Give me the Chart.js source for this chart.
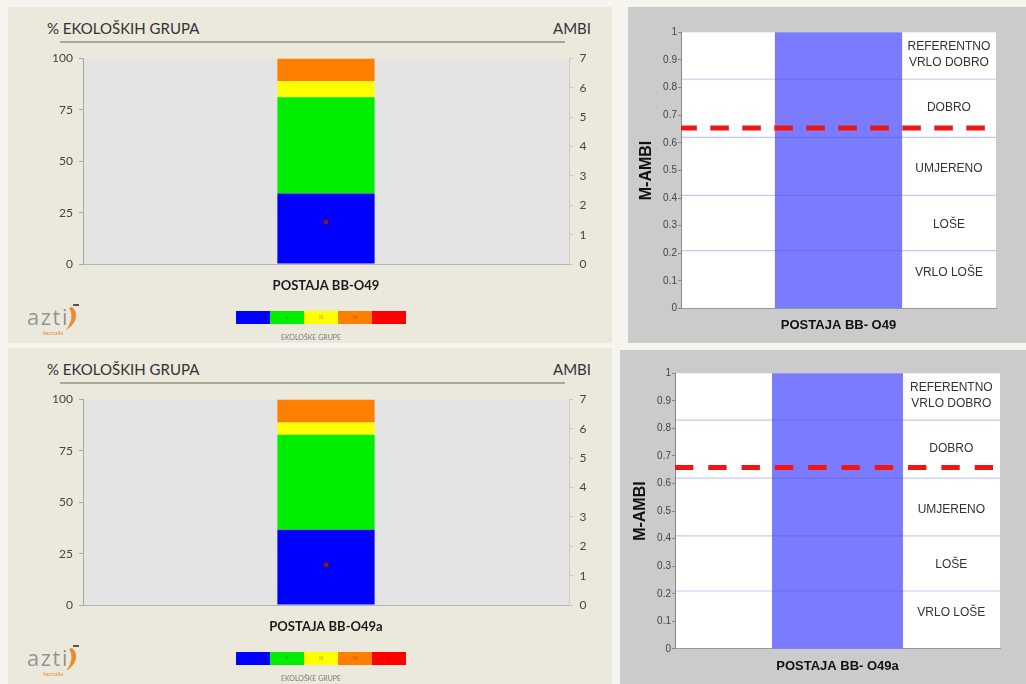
<!DOCTYPE html>
<html>
<head>
<meta charset="utf-8">
<script src="https://cdn.jsdelivr.net/npm/chart.js@4.4.0/dist/chart.umd.min.js"></script>
<style>
  body { margin:0; width:1026px; height:684px; position:relative; overflow:hidden; background:#f5f4ef; font-family:Lato, sans-serif; }
  .block { position:absolute; width:612px; height:343px; }
  .block.right { width:414px; }
  .bg { position:absolute; }
  .beige { background:#ebe8dc; }
  .grey { background:#cbcbcb; }
  canvas { position:absolute; left:0; top:0; }
  .head { position:absolute; top:19px; font-size:15px; line-height:18px; color:#333; }
  .rule { position:absolute; left:60px; top:41px; width:505px; height:2px; background:#a9a697; }
  .strip { position:absolute; left:236px; top:311px; width:170px; height:13px; display:flex; }
  .strip span { flex:1; font-size:5px; line-height:13px; text-align:center; color:rgba(0,0,0,.45); }
  .eg { position:absolute; left:251px; top:333px; width:120px; text-align:center; font-size:7px; line-height:9px; color:#7a7a7a; }
  .azti { position:absolute; left:27px; top:304px; font-family:"Open Sans", sans-serif; font-size:22px; line-height:24px; letter-spacing:1.5px; color:#939393; }
  .tec { position:absolute; left:43px; top:329px; font-size:6px; line-height:7px; color:#e8893a; }
  .swoosh { position:absolute; left:64px; top:303px; }
</style>
</head>
<body>

<div class="block" style="left:0;top:0">
  <div class="bg beige" style="left:8px;top:7px;width:604px;height:336px"></div>
  <div class="head" style="left:47px">% EKOLOŠKIH GRUPA</div>
  <div class="head" style="right:21px">AMBI</div>
  <div class="rule"></div>
  <canvas id="ambi0" width="612" height="343"></canvas>
  <div class="azti">azti</div>
  <div class="tec">tecnalia</div>
  <svg class="swoosh" width="18" height="28" viewBox="0 0 18 28"><path d="M8 4 C15 9 13 21 2 27 C8 19 9 11 5 5 Z" fill="#ef8a2c"/><rect x="9" y="1" width="6" height="2" fill="#555"/></svg>
  <div class="strip"><span style="background:#0000ff">I</span><span style="background:#00ee00">II</span><span style="background:#ffff00">III</span><span style="background:#ff8000">IV</span><span style="background:#ff0000">V</span></div>
  <div class="eg">EKOLOŠKE GRUPE</div>
</div>

<div class="block" style="left:0;top:341px">
  <div class="bg beige" style="left:8px;top:7px;width:604px;height:336px"></div>
  <div class="head" style="left:47px">% EKOLOŠKIH GRUPA</div>
  <div class="head" style="right:21px">AMBI</div>
  <div class="rule"></div>
  <canvas id="ambi1" width="612" height="343"></canvas>
  <div class="azti">azti</div>
  <div class="tec">tecnalia</div>
  <svg class="swoosh" width="18" height="28" viewBox="0 0 18 28"><path d="M8 4 C15 9 13 21 2 27 C8 19 9 11 5 5 Z" fill="#ef8a2c"/><rect x="9" y="1" width="6" height="2" fill="#555"/></svg>
  <div class="strip"><span style="background:#0000ff">I</span><span style="background:#00ee00">II</span><span style="background:#ffff00">III</span><span style="background:#ff8000">IV</span><span style="background:#ff0000">V</span></div>
  <div class="eg">EKOLOŠKE GRUPE</div>
</div>

<div class="block right" style="left:612px;top:0">
  <div class="bg grey" style="left:16px;top:7px;width:398px;height:336px"></div>
  <canvas id="mambi0" width="414" height="343"></canvas>
</div>

<div class="block right" style="left:612px;top:341px">
  <div class="bg grey" style="left:8px;top:9px;width:406px;height:334px"></div>
  <canvas id="mambi1" width="414" height="343"></canvas>
</div>

<script>
// postaje
const stations = ['POSTAJA BB-O49', 'POSTAJA BB-O49a'];
const mambiStations = ['POSTAJA BB- O49', 'POSTAJA BB- O49a'];

// % ekoloških grupa I-V po postaji
const grpI = [34.3, 36.6];
const grpII = [46.9, 46.2];
const grpIII = [7.7, 6.0];
const grpIV = [11.1, 11.2];
const grpV = [0, 0];
const ambi = [1.43, 1.37];

// M-AMBI
const mambi = [0.654, 0.658];
const mambiBar = [1, 1];
const statusLimits = [0.83, 0.62, 0.41, 0.21];
const statusNames = [['REFERENTNO', 'VRLO DOBRO'], ['DOBRO'], ['UMJERENO'], ['LOŠE'], ['VRLO LOŠE']];
const statusLabelAt = [0.918, 0.726, 0.506, 0.304, 0.13];

// oznake osi
const pctTicks = [0, 25, 50, 75, 100];
const ambiTicks = [0, 1, 2, 3, 4, 5, 6, 7];
const mambiTicks = [0, 0.1, 0.2, 0.3, 0.4, 0.5, 0.6, 0.7, 0.8, 0.9, 1];

const groupNames = ['I', 'II', 'III', 'IV', 'V'];
const groupPct = [grpI, grpII, grpIII, grpIV, grpV];
const groupColors = ['#0000ff', '#00ee00', '#ffff00', '#ff8000', '#ff0000'];

// pozadina područja grafa
const plotBg = {
  id: 'plotBg',
  beforeDraw(chart, args, opts) {
    const { ctx, chartArea: a } = chart;
    ctx.save();
    ctx.fillStyle = opts.color;
    ctx.fillRect(a.left, a.top, a.width, a.height);
    ctx.restore();
  }
};

// nazivi klasa stanja desno od stupca
const statusText = {
  id: 'statusText',
  afterDatasetsDraw(chart) {
    const { ctx, chartArea: a, scales: { y } } = chart;
    const bar = chart.getDatasetMeta(chart.data.datasets.length - 1).data[0];
    const cx = (bar.x + bar.width / 2 + a.right) / 2;
    ctx.save();
    ctx.font = '12px "Liberation Sans", Arial, sans-serif';
    ctx.fillStyle = '#333';
    ctx.textAlign = 'center';
    ctx.textBaseline = 'middle';
    statusNames.forEach((lines, i) => {
      const cy = y.getPixelForValue(statusLabelAt[i]);
      lines.forEach((t, j) => ctx.fillText(t, cx, cy + (j - (lines.length - 1) / 2) * 16));
    });
    ctx.restore();
  }
};

const tickList = arr => s => { s.ticks = arr.map(v => ({ value: v })); };

function ambiChart(id, k) {
  return new Chart(document.getElementById(id), {
    type: 'bar',
    data: {
      labels: [stations[k]],
      datasets: [
        {
          type: 'line', label: 'AMBI', data: [ambi[k]], yAxisID: 'y1', showLine: false,
          pointRadius: 2.5, pointBackgroundColor: '#7a1c52', pointBorderColor: '#4b1040', pointBorderWidth: 1
        },
        ...groupNames.map((g, i) => ({
          label: g, data: [groupPct[i][k]], backgroundColor: groupColors[i], yAxisID: 'y',
          stack: 'grupe', barPercentage: 0.2, categoryPercentage: 1
        }))
      ]
    },
    options: {
      responsive: false,
      animation: false,
      layout: { padding: { left: 53, right: 13, top: 58.5, bottom: 39 } },
      plugins: { legend: { display: false }, tooltip: { enabled: false }, plotBg: { color: '#e4e4e4' } },
      scales: {
        x: {
          stacked: true,
          grid: { display: false, drawTicks: false },
          border: { color: '#b5b5b5' },
          ticks: { padding: 14, color: '#1a1a1a', font: { family: 'Lato', size: 13, weight: 'bold' } },
          afterFit: s => { s.height = 40; }
        },
        y: {
          stacked: true, position: 'left', min: 0, max: 100,
          grid: { drawOnChartArea: false, tickLength: 4, color: '#a8a8a8' },
          border: { color: '#a8a8a8' },
          ticks: { padding: 6, color: '#444', font: { family: 'Lato', size: 12 } },
          afterBuildTicks: tickList(pctTicks),
          afterFit: s => { s.width = 30; }
        },
        y1: {
          position: 'right', min: 0, max: 7,
          grid: { drawOnChartArea: false, tickLength: 4, color: '#d6bcbc' },
          border: { color: '#d8c8c8' },
          ticks: { padding: 6.5, color: '#444', font: { family: 'Lato', size: 12 } },
          afterBuildTicks: tickList(ambiTicks),
          afterFit: s => { s.width = 30; }
        }
      }
    },
    plugins: [plotBg]
  });
}

function mambiChart(id, k, cfg) {
  const limitSets = statusLimits.map(v => ({
    type: 'line', data: [{ x: 0, y: v }, { x: 1, y: v }],
    borderColor: 'rgba(80,80,225,0.32)', borderWidth: 1.2, pointRadius: 0
  }));
  return new Chart(document.getElementById(id), {
    type: 'bar',
    data: {
      datasets: [
        {
          type: 'line', data: [{ x: 0, y: mambi[k] }, { x: 1, y: mambi[k] }],
          borderColor: '#f21313', borderWidth: 5, borderDash: cfg.dash, borderDashOffset: cfg.dashOffset,
          pointRadius: 0
        },
        ...limitSets,
        { type: 'bar', data: [{ x: 0.5, y: mambiBar[k] }], backgroundColor: '#7b7bff', barThickness: cfg.barW }
      ]
    },
    options: {
      responsive: false,
      animation: false,
      layout: { padding: cfg.pad },
      plugins: { legend: { display: false }, tooltip: { enabled: false }, plotBg: { color: '#ffffff' } },
      scales: {
        x: {
          type: 'linear', min: 0, max: 1, offset: false,
          grid: { display: false, drawTicks: false, offset: false },
          border: { color: '#999' },
          ticks: { display: false },
          title: { display: true, text: mambiStations[k], color: '#111', padding: 0,
                   font: { family: '"Liberation Sans", Arial', size: 13, weight: 'bold' } },
          afterFit: s => { s.height = cfg.xh; }
        },
        y: {
          min: 0, max: 1,
          grid: { drawOnChartArea: false, tickLength: 3, color: '#888' },
          border: { color: '#888' },
          ticks: { padding: 1, color: '#444', font: { family: '"Liberation Sans", Arial', size: 10 },
                   callback: v => String(+v.toFixed(1)) },
          afterBuildTicks: tickList(mambiTicks),
          title: { display: true, text: 'M-AMBI', color: '#111', padding: 0,
                   font: { family: '"Liberation Sans", Arial', size: 16, weight: 'bold' } },
          afterFit: s => { s.width = 43.6; }
        }
      }
    },
    plugins: [plotBg, statusText]
  });
}

ambiChart('ambi0', 0);
ambiChart('ambi1', 1);
mambiChart('mambi0', 0, {
  pad: { left: 25.4, right: 30, top: 32.3, bottom: 9.8 }, xh: 24.6,
  barW: 126.6, dash: [18.5, 13.5], dashOffset: 2.7
});
mambiChart('mambi1', 1, {
  pad: { left: 19.4, right: 26, top: 32.3, bottom: 9.8 }, xh: 25.3,
  barW: 130.3, dash: [18.3, 15], dashOffset: 0
});
</script>
</body>
</html>
